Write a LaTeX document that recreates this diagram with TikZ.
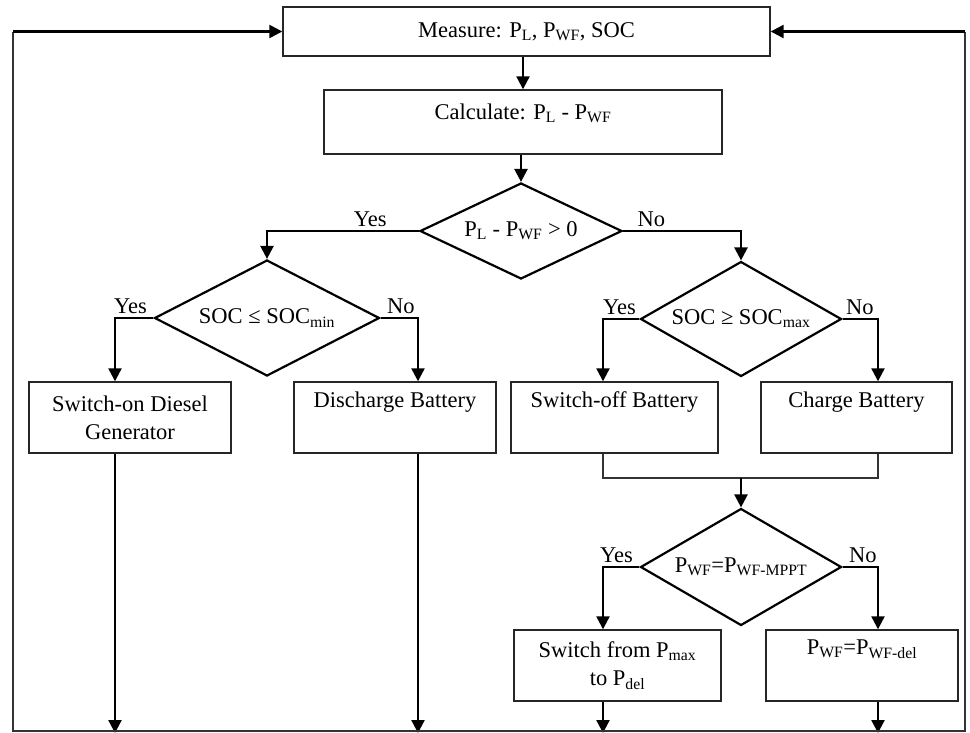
\documentclass[tikz,border=0pt]{standalone}
\usepackage{fontspec}
\setmainfont{Liberation Serif}
\usetikzlibrary{shapes.geometric,arrows.meta}
\newcommand\lo[1]{\textsubscript{#1}}
\tikzset{
  box/.style={draw=black!85, line width=1.4pt, align=center, inner sep=0pt},
  dec/.style={draw, diamond, aspect=2, line width=2.2pt, inner sep=0pt},
  flow/.style={line width=2.3pt, >={Triangle[length=13pt,width=13pt]}},
  joinline/.style={draw=black!80, line width=1.4pt},
  txt/.style={font=\fontsize{22.5}{28}\selectfont}
}
\begin{document}
\begin{tikzpicture}[x=1pt, y=-1pt, every node/.style={txt}]
        \useasboundingbox (0,0) rectangle (970,732);

        \node[box, minimum width=487pt, minimum height=49pt] (measure) at (526.5,31.5) {Measure: P\lo{L}, P\lo{WF}, SOC};
        \node[box, minimum width=398pt, minimum height=64pt, text depth=20pt] (calc) at (523,122) {Calculate: P\lo{L} - P\lo{WF}};
        \node[dec, minimum width=202pt, minimum height=96pt] (dec1) at (521,231) {P\lo{L} - P\lo{WF} > 0};
        \node[dec, minimum width=225pt, minimum height=116pt] (dec2) at (267,318) {SOC ≤ SOC\lo{min}};
        \node[dec, minimum width=201pt, minimum height=115pt] (dec3) at (741,319) {SOC ≥ SOC\lo{max}};
        \node[dec, minimum width=201pt, minimum height=117pt] (dec4) at (741,567) {P\lo{WF}=P\lo{WF-MPPT}};

        \node[box, minimum width=202pt, minimum height=71pt] (diesel) at (130,417.5) {Switch-on Diesel\\Generator};
        \node[box, minimum width=202pt, minimum height=71pt] (discharge) at (395,417.5) {Discharge Battery\\\strut};
        \node[box, minimum width=207pt, minimum height=71pt] (off) at (614.5,417.5) {Switch-off Battery\\\strut};
        \node[box, minimum width=191pt, minimum height=71pt] (charge) at (856.5,417.5) {Charge Battery\\\strut};
        \node[box, minimum width=207pt, minimum height=71pt] (switch) at (617.5,665.5) {Switch from P\lo{max}\\to P\lo{del}};
        \node[box, minimum width=192pt, minimum height=71pt] (del) at (862,665.5) {P\lo{WF}=P\lo{WF-del}\\\strut};

        \coordinate (xa) at (115,0);
        \coordinate (xb) at (418,0);
        \coordinate (xc) at (603,0);
        \coordinate (xd) at (878,0);
        \coordinate (m) at (741,478);
        \coordinate (bl) at (13,731);
        \coordinate (br) at (965,731);

        \draw[flow,->] (calc.north |- measure.south) -- (calc.north);
        \draw[flow,->] (dec1.north |- calc.south) -- (dec1.north);
        \draw[flow,->] (dec1.west) -| node[pos=0.16, above] {Yes} (dec2.north);
        \draw[flow,->] (dec1.east) -| node[pos=0.12, above] {No} (dec3.north);
        \draw[flow,->] (dec2.west) -| node[at start, above left, xshift=-2pt] {Yes} (xa |- diesel.north);
        \draw[flow,->] (dec2.east) -| node[at start, above right, xshift=2pt] {No} (xb |- discharge.north);
        \draw[flow,->] (dec3.west) -| node[at start, above left, xshift=1pt] {Yes} (xc |- off.north);
        \draw[flow,->] (dec3.east) -| node[at start, above right, xshift=-1pt] {No} (xd |- charge.north);
        \draw[flow,->] (dec4.west) -| node[at start, above left, xshift=-2pt] {Yes} (xc |- switch.north);
        \draw[flow,->] (dec4.east) -| node[at start, above right, xshift=2pt] {No} (xd |- del.north);

        \draw[joinline] (xc |- off.south) -- (xc |- m) -- (xd |- m) -- (xd |- charge.south);
        \draw[flow,->] (m) -- (dec4.north);

        \draw[flow,->] (xa |- diesel.south) -- ([yshift=-2pt]xa |- bl);
        \draw[flow,->] (xb |- discharge.south) -- ([yshift=-2pt]xb |- bl);
        \draw[flow,->] (xc |- switch.south) -- ([yshift=-2pt]xc |- bl);
        \draw[flow,->] (xd |- del.south) -- ([yshift=-2pt]xd |- bl);

        \draw[joinline] (bl |- measure.west) -- (bl) -- (br) -- (br |- measure.west);
        \draw[flow,->] (bl |- measure.west) -- (measure.west);
        \draw[flow,->] (br |- measure.east) -- (measure.east);
\end{tikzpicture}
\end{document}
